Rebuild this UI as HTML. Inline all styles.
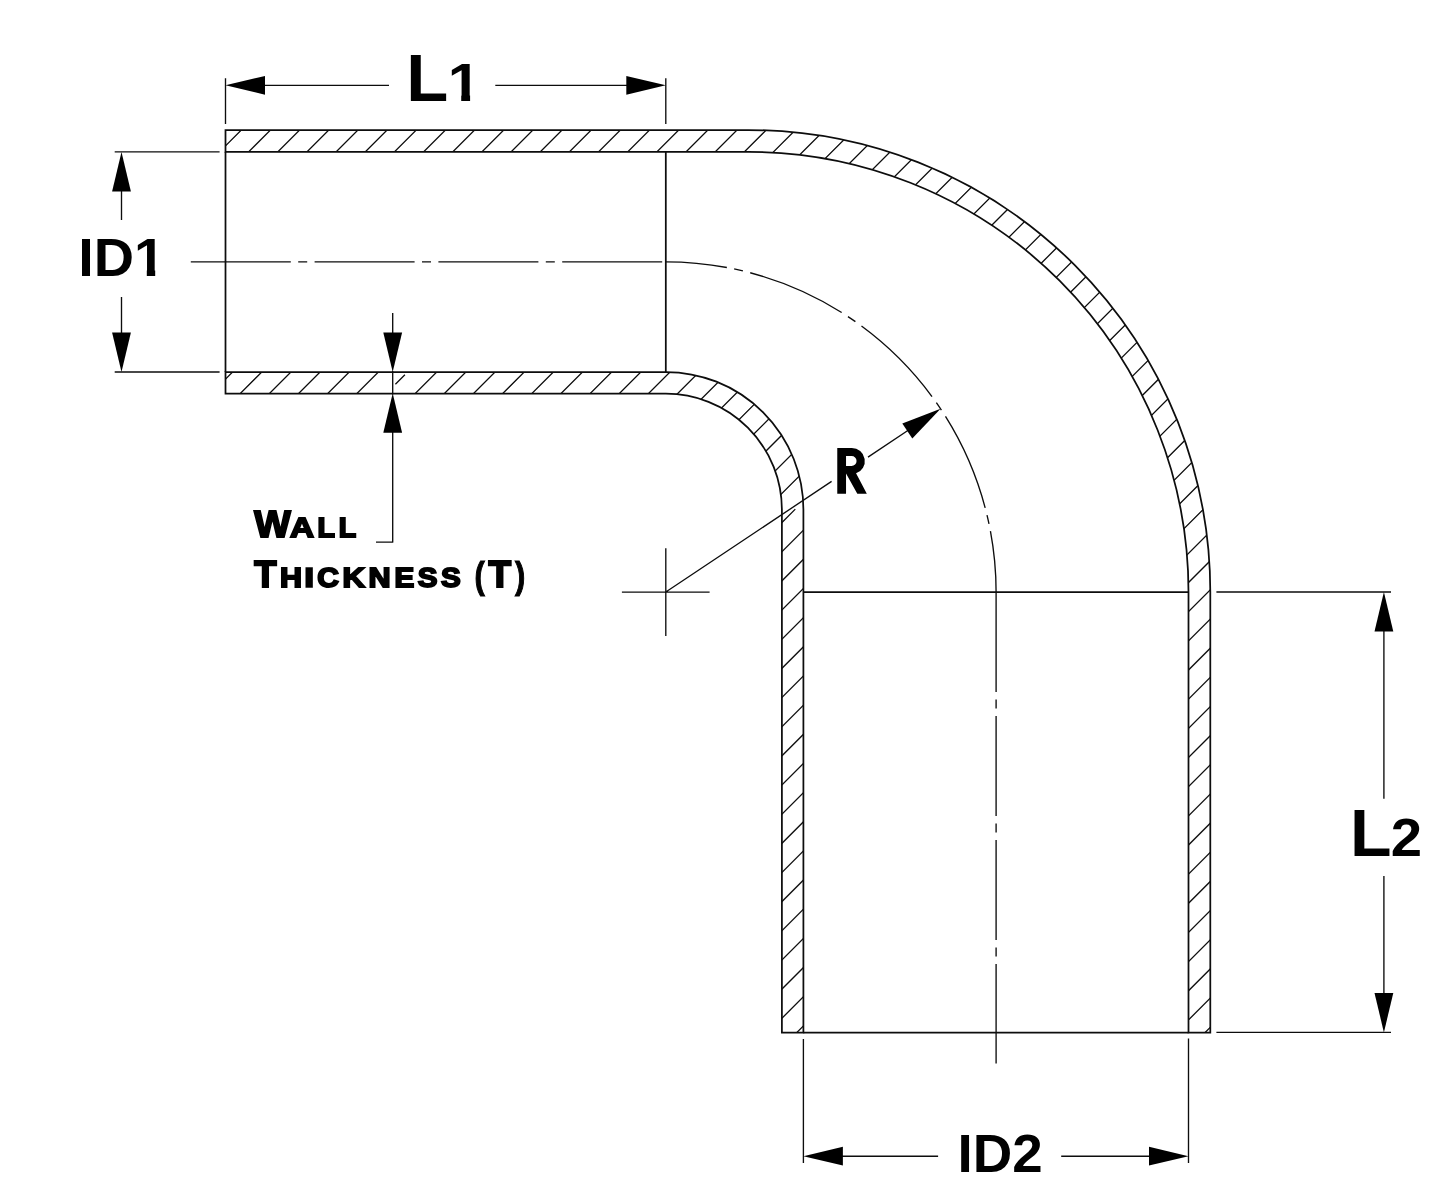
<!DOCTYPE html>
<html><head><meta charset="utf-8"><title>90 degree reducer elbow</title>
<style>
html,body{margin:0;padding:0;background:#fff;}
body{width:1445px;height:1198px;overflow:hidden;font-family:"Liberation Sans",sans-serif;}
svg{display:block;}
text{font-family:"Liberation Sans",sans-serif;font-weight:bold;font-kerning:none;fill:#000;}
</style></head><body>
<svg width="1445" height="1198" viewBox="0 0 1445 1198">
<rect width="1445" height="1198" fill="#fff"/>
<defs>
<clipPath id="wallclip"><path d="M225.5,130.0 L748.3,130.0 A462.0,462.0 0 0 1 1210.3,592.0 L1210.3,1032.5 L1188.5,1032.5 L1188.5,592.0 A440.2,440.2 0 0 0 748.3,151.8 L225.5,151.8 Z M225.5,372.0 L665.8,372.0 A137.6,137.6 0 0 1 803.4,509.6 L803.4,1032.5 L781.9,1032.5 L781.9,509.6 A116.1,116.1 0 0 0 665.8,393.7 L225.5,393.7 Z"/></clipPath>
<clipPath id="c1a"><path clip-rule="evenodd" d="M446.70,58.50 H485.44 V105.90 H446.70 Z M450.38,95.05 H461.22 V102.90 H450.38 Z M470.10,61.50 H480.44 V102.90 H470.10 Z"/></clipPath>
<clipPath id="c1b"><path clip-rule="evenodd" d="M76.90,234.10 H170.01 V280.80 H76.90 Z M136.52,270.06 H146.79 V277.80 H136.52 Z M155.20,237.10 H165.01 V277.80 H155.20 Z"/></clipPath>
</defs>
<g clip-path="url(#wallclip)"><path d="M-932.78,1100 L67.22,100 M-903.62,1100 L96.38,100 M-874.46,1100 L125.54,100 M-845.30,1100 L154.70,100 M-816.14,1100 L183.86,100 M-786.98,1100 L213.02,100 M-757.82,1100 L242.18,100 M-728.66,1100 L271.34,100 M-699.50,1100 L300.50,100 M-670.34,1100 L329.66,100 M-641.18,1100 L358.82,100 M-612.02,1100 L387.98,100 M-582.86,1100 L417.14,100 M-553.70,1100 L446.30,100 M-524.54,1100 L475.46,100 M-495.38,1100 L504.62,100 M-466.22,1100 L533.78,100 M-437.06,1100 L562.94,100 M-407.90,1100 L592.10,100 M-378.74,1100 L621.26,100 M-349.58,1100 L650.42,100 M395.4,384.18 L404.9,374.68 M600,179.58 L700,79.58 M-291.26,1100 L708.74,100 M-262.10,1100 L737.90,100 M-232.94,1100 L767.06,100 M-203.78,1100 L796.22,100 M-174.62,1100 L825.38,100 M-145.46,1100 L854.54,100 M-116.30,1100 L883.70,100 M-87.14,1100 L912.86,100 M-57.98,1100 L942.02,100 M-28.82,1100 L971.18,100 M0.34,1100 L1000.34,100 M29.50,1100 L1029.50,100 M58.66,1100 L1058.66,100 M87.82,1100 L1087.82,100 M116.98,1100 L1116.98,100 M146.14,1100 L1146.14,100 M175.30,1100 L1175.30,100 M781,523.46 L795.3,509.16 M900,404.46 L1300,4.46 M233.62,1100 L1233.62,100 M262.78,1100 L1262.78,100 M291.94,1100 L1291.94,100 M321.10,1100 L1321.10,100 M350.26,1100 L1350.26,100 M379.42,1100 L1379.42,100 M408.58,1100 L1408.58,100 M437.74,1100 L1437.74,100 M466.90,1100 L1466.90,100 M496.06,1100 L1496.06,100 M525.22,1100 L1525.22,100 M554.38,1100 L1554.38,100 M583.54,1100 L1583.54,100 M612.70,1100 L1612.70,100 M641.86,1100 L1641.86,100 M671.02,1100 L1671.02,100 M700.18,1100 L1700.18,100 M729.34,1100 L1729.34,100 M758.50,1100 L1758.50,100 M787.66,1100 L1787.66,100 M816.82,1100 L1816.82,100 M845.98,1100 L1845.98,100 M875.14,1100 L1875.14,100 M904.30,1100 L1904.30,100 M933.46,1100 L1933.46,100 M962.62,1100 L1962.62,100 M991.78,1100 L1991.78,100 M1020.94,1100 L2020.94,100 M1050.10,1100 L2050.10,100 M1079.26,1100 L2079.26,100 M1108.42,1100 L2108.42,100 M1137.58,1100 L2137.58,100 M1166.74,1100 L2166.74,100 M1195.90,1100 L2195.90,100 M1225.06,1100 L2225.06,100 M1254.22,1100 L2254.22,100 M1283.38,1100 L2283.38,100 M1312.54,1100 L2312.54,100" fill="none" stroke="#0d0d0d" stroke-width="1.3"/></g>
<g fill="none" stroke="#0d0d0d" stroke-width="1.35">
<path d="M225.50,78.30 L225.50,124.00 M665.80,78.30 L665.80,124.00 M263.50,85.30 L389.00,85.30 M495.30,85.30 L627.80,85.30 M114.70,151.90 L219.60,151.90 M114.70,372.00 L219.60,372.00 M121.50,189.90 L121.50,219.90 M121.50,296.90 L121.50,334.00 M392.70,313.10 L392.70,334.00 M392.70,371.00 L392.70,394.50 M392.70,431.00 L392.70,542.10 M376.00,542.10 L393.30,542.10 M621.90,592.10 L709.60,592.10 M665.80,548.20 L665.80,635.90 M665.80,592.00 L831.60,481.41 M868.00,457.13 L908.97,429.80 M1216.40,592.00 L1391.00,592.00 M1216.40,1032.40 L1391.00,1032.40 M1383.90,630.00 L1383.90,798.70 M1383.90,875.90 L1383.90,994.40 M803.40,1038.90 L803.40,1163.10 M1188.50,1038.50 L1188.50,1163.00 M841.40,1156.20 L938.10,1156.20 M1061.20,1156.20 L1150.50,1156.20"/>
<path d="M190.8,261.8 L665.8,261.8" stroke-dasharray="100 7.4 9 7.4"/>
<path d="M665.8,261.8 A330.3,330.3 0 0 1 996.1,592.0" stroke-dasharray="100 7.5 9 7.5" stroke-dashoffset="38.6"/>
<path d="M996.1,592.0 L996.1,1063.5" stroke-dasharray="100 7.5 9 7.5"/>
</g>
<g fill="none" stroke="#0d0d0d" stroke-width="1.75" stroke-linejoin="miter">
<path d="M225.5,130.0 L748.3,130.0 A462.0,462.0 0 0 1 1210.3,592.0 L1210.3,1032.5 L1188.5,1032.5 L1188.5,592.0 A440.2,440.2 0 0 0 748.3,151.8 L225.5,151.8 Z"/>
<path d="M225.5,372.0 L665.8,372.0 A137.6,137.6 0 0 1 803.4,509.6 L803.4,1032.5 L781.9,1032.5 L781.9,509.6 A116.1,116.1 0 0 0 665.8,393.7 L225.5,393.7 Z"/>
<path d="M665.8,151.8 L665.8,372.0"/>
<path d="M225.5,151.8 L225.5,372.0"/>
<path d="M803.4,592.0 L1188.5,592.0"/>
<path d="M803.4,1032.5 L1188.5,1032.5"/>
</g>
<g fill="#000" stroke="none">
<polygon points="225.50,85.30 265.00,75.90 265.00,94.70"/>
<polygon points="665.80,85.30 626.30,94.70 626.30,75.90"/>
<polygon points="121.50,151.90 130.90,191.40 112.10,191.40"/>
<polygon points="121.50,372.00 112.10,332.50 130.90,332.50"/>
<polygon points="392.70,372.00 383.30,332.50 402.10,332.50"/>
<polygon points="392.70,393.30 402.10,432.80 383.30,432.80"/>
<polygon points="940.58,408.71 912.30,438.40 902.31,423.42"/>
<polygon points="1383.90,592.00 1393.30,631.50 1374.50,631.50"/>
<polygon points="1383.90,1032.40 1374.50,992.90 1393.30,992.90"/>
<polygon points="803.40,1156.20 842.90,1146.80 842.90,1165.60"/>
<polygon points="1188.50,1156.20 1149.00,1165.60 1149.00,1146.80"/>
<path transform="translate(828,440) scale(0.0501)" fill-rule="evenodd" d="M185,160 L475,160 A260,260 0 0 1 560,665.7 L775,1075 L585,1075 L360,670 L360,1075 L185,1075 Z M360,320 L470,320 A100,100 0 0 1 470,520 L360,520 Z"/>
</g>
<g style="opacity:0.999">
<text transform="matrix(0.68786 0 0 0.67151 406.199 100.900)" font-size="100">L</text>
<g clip-path="url(#c1a)"><text transform="matrix(0.59223 0 0 0.54360 447.652 100.900)" font-size="100">1</text></g>
<g clip-path="url(#c1b)"><text transform="matrix(0.55841 0 0 0.53343 78.165 275.800)" font-size="100">ID1</text></g>
<text transform="matrix(0.68007 0 0 0.66424 1349.951 856.200)" font-size="100">L</text>
<text transform="matrix(0.56289 0 0 0.53563 1390.849 856.200)" font-size="100">2</text>
<text transform="matrix(0.54719 0 0 0.52704 957.540 1171.700)" font-size="100">ID2</text>
<text transform="matrix(0.38646 0 0 0.37355 254.262 537.200)" font-size="100" stroke="#000" stroke-width="5.263" stroke-linejoin="miter">W</text>
<text transform="matrix(0.33239 0 0 0.27616 290.072 537.200)" font-size="100" stroke="#000" stroke-width="6.573" stroke-linejoin="miter">A</text>
<text transform="matrix(0.28450 0 0 0.27616 317.397 537.200)" font-size="100" stroke="#000" stroke-width="7.134" stroke-linejoin="miter">L</text>
<text transform="matrix(0.28450 0 0 0.27616 338.797 537.200)" font-size="100" stroke="#000" stroke-width="7.134" stroke-linejoin="miter">L</text>
<text transform="matrix(0.36511 0 0 0.36919 254.190 586.800)" font-size="100" stroke="#000" stroke-width="5.447" stroke-linejoin="miter">T</text>
<text transform="matrix(0.30448 0 0 0.27326 279.963 586.800)" font-size="100" stroke="#000" stroke-width="6.924" stroke-linejoin="miter">H</text>
<text transform="matrix(0.35406 0 0 0.27326 304.332 586.800)" font-size="100" stroke="#000" stroke-width="6.376" stroke-linejoin="miter">I</text>
<text transform="matrix(0.29978 0 0 0.27326 317.270 586.800)" font-size="100" stroke="#000" stroke-width="6.980" stroke-linejoin="miter">C</text>
<text transform="matrix(0.31115 0 0 0.27326 342.519 586.800)" font-size="100" stroke="#000" stroke-width="6.845" stroke-linejoin="miter">K</text>
<text transform="matrix(0.30618 0 0 0.27326 368.552 586.800)" font-size="100" stroke="#000" stroke-width="6.903" stroke-linejoin="miter">N</text>
<text transform="matrix(0.29588 0 0 0.27326 394.521 586.800)" font-size="100" stroke="#000" stroke-width="7.028" stroke-linejoin="miter">E</text>
<text transform="matrix(0.29543 0 0 0.27326 417.849 586.800)" font-size="100" stroke="#000" stroke-width="7.034" stroke-linejoin="miter">S</text>
<text transform="matrix(0.29543 0 0 0.27326 441.049 586.800)" font-size="100" stroke="#000" stroke-width="7.034" stroke-linejoin="miter">S</text>
<text transform="matrix(0.37020 0 0 0.36919 488.584 586.800)" font-size="100" stroke="#000" stroke-width="5.410" stroke-linejoin="miter">T</text>
<text transform="matrix(0.30826 0 0 0.37763 474.465 587.563)" font-size="100" stroke="#000" stroke-width="2.916" stroke-linejoin="miter">(</text>
<text transform="matrix(0.30826 0 0 0.37763 515.070 587.563)" font-size="100" stroke="#000" stroke-width="2.916" stroke-linejoin="miter">)</text>
</g>
</svg>
</body></html>
